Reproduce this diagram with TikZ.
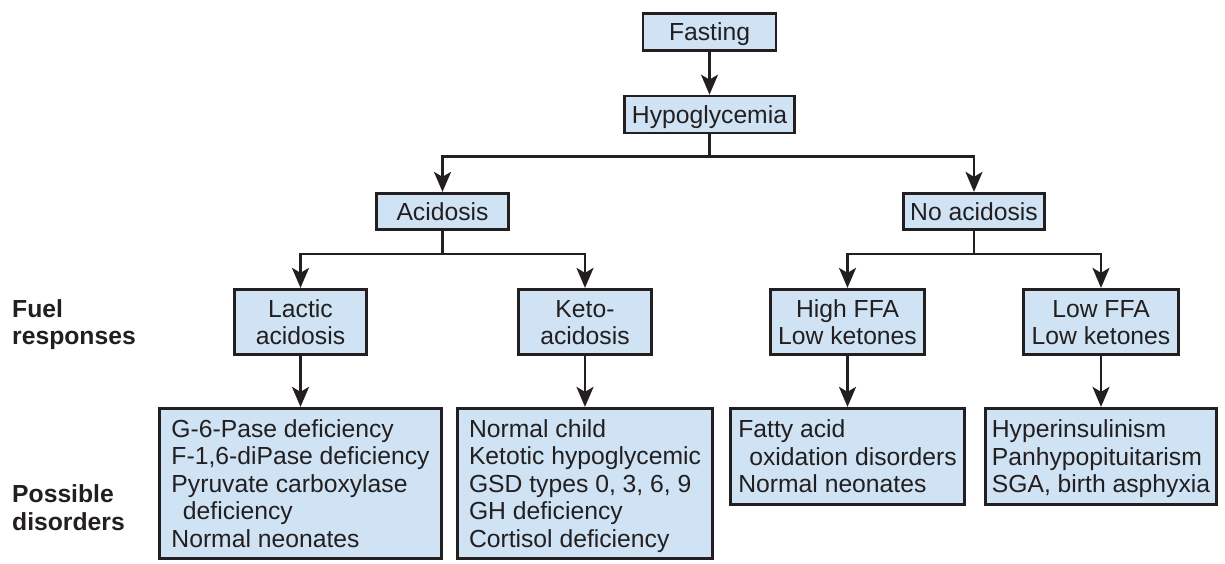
\documentclass[tikz,border=0pt]{standalone}
\usepackage{fontspec}
\setmainfont{Liberation Sans}
\usetikzlibrary{arrows.meta}
\definecolor{boxfill}{RGB}{207,227,244}
\definecolor{ink}{RGB}{35,31,32}
\newcommand\boxfont{\fontsize{24.7pt}{27.6pt}\selectfont}
\newlength\caph
\setlength\caph{17.7pt}
\newcommand\fstln[1]{\raisebox{0pt}[\caph][0pt]{#1}}
\newcommand\lstln[1]{\raisebox{0pt}[0pt][0pt]{#1}}
\newcommand\oneln[1]{\raisebox{0pt}[\caph][0pt]{#1}}
\begin{document}
\begin{tikzpicture}[x=1pt,y=-1pt,
  box/.style={draw=ink, fill=boxfill, line width=2.7pt, inner sep=0pt, text=ink, font=\boxfont, align=center},
  listbox/.style={box, align=left},
  lbl/.style={inner sep=0pt, text=ink, font=\boxfont\bfseries, align=left, anchor=west},
  arr/.style={draw=ink, line width=2.6pt, -{Stealth[length=20pt,width=17pt,inset=5pt]}}
]
\fill[white] (0,0) rectangle (1225,564);
\useasboundingbox (0,0) rectangle (1225,564);

\node[box, minimum width=133pt, minimum height=37pt] (fast) at (709.5,32) {\oneln{Fasting}};
\node[box, minimum width=170pt, minimum height=37pt] (hypo) at (709.5,114.5) {\oneln{Hypoglycemia}};
\node[box, minimum width=132.5pt, minimum height=36.5pt] (acid) at (442.5,211.5) {\oneln{Acidosis}};
\node[box, minimum width=141.5pt, minimum height=36.5pt] (noacid) at (974,211.5) {\oneln{No acidosis}};

\node[box, minimum width=132.5pt, minimum height=65.5pt] (lactic) at (300.5,322) {\fstln{Lactic}\\\lstln{acidosis}};
\node[box, minimum width=133.5pt, minimum height=65.5pt] (keto) at (585,322) {\fstln{Keto-}\\\lstln{acidosis}};
\node[box, minimum width=154.5pt, minimum height=65.5pt] (high) at (847.5,322) {\fstln{High FFA}\\\lstln{Low ketones}};
\node[box, minimum width=155.5pt, minimum height=65.5pt] (low) at (1101,322) {\fstln{Low FFA}\\\lstln{Low ketones}};

\node[listbox, minimum width=282.5pt, minimum height=150.5pt] (d1) at (300.5,483.5)
  {\fstln{G-6-Pase deficiency}\\F-1,6-diPase deficiency\\Pyruvate carboxylase\\\hspace*{11.5pt}deficiency\\\lstln{Normal neonates}};
\node[listbox, minimum width=255.5pt, minimum height=150.5pt] (d2) at (585,483.5)
  {\fstln{Normal child}\\Ketotic hypoglycemic\\GSD types 0, 3, 6, 9\\GH deficiency\\\lstln{Cortisol deficiency}};
\node[listbox, minimum width=233.5pt, minimum height=96.5pt] (d3) at (847.5,456.5)
  {\fstln{Fatty acid}\\\hspace*{11pt}oxidation disorders\\\lstln{Normal neonates}};
\node[listbox, minimum width=231.5pt, minimum height=96.5pt] (d4) at (1101,456.5)
  {\fstln{Hyperinsulinism}\\Panhypopituitarism\\\lstln{SGA, birth asphyxia}};

\node[lbl] (fuel) at (12,322) {\fstln{Fuel}\\\lstln{responses}};
\node[lbl] (poss) at (12,507.5) {\fstln{Possible}\\\lstln{disorders}};

\draw[arr] (fast) -- (hypo);
\coordinate (j1) at ([yshift=-22pt]hypo.south);
\draw[arr] (hypo.south) -- (j1) -| (acid.north);
\draw[arr] (j1) -| (noacid.north);
\coordinate (j2) at ([yshift=-23pt]acid.south);
\draw[arr] (acid.south) -- (j2) -| (lactic.north);
\draw[arr] (j2) -| (keto.north);
\coordinate (j3) at ([yshift=-23pt]noacid.south);
\draw[arr] (noacid.south) -- (j3) -| (high.north);
\draw[arr] (j3) -| (low.north);
\draw[arr] (lactic) -- (d1);
\draw[arr] (keto) -- (d2);
\draw[arr] (high) -- (d3);
\draw[arr] (low) -- (d4);
\end{tikzpicture}
\end{document}
